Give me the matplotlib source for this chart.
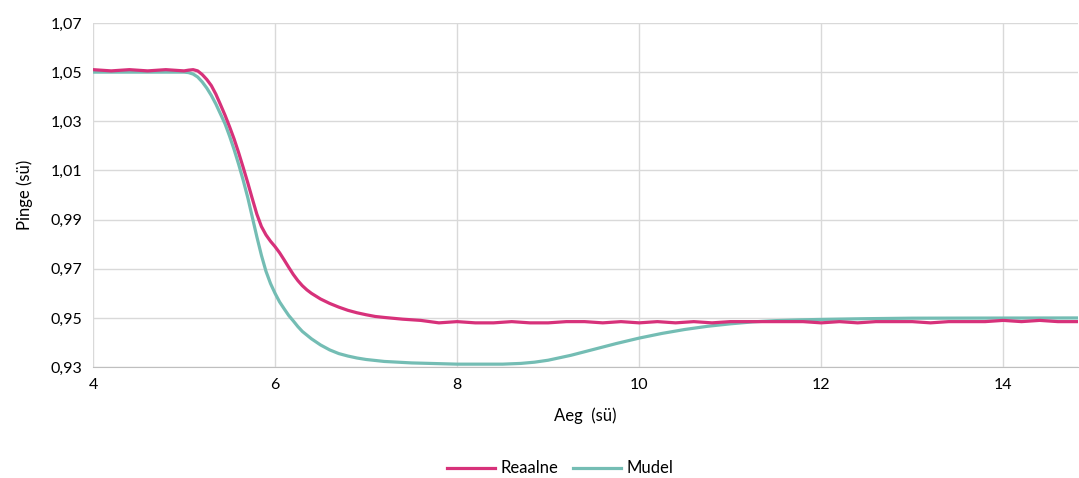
import numpy as np
import matplotlib.pyplot as plt
from matplotlib.ticker import FuncFormatter

plt.rcParams['font.family'] = ['Lato', 'DejaVu Sans']

# andmed (loetud pildilt)
x_real = [4.0, 4.2, 4.4, 4.6, 4.8, 5.0, 5.05, 5.1, 5.15, 5.2, 5.25, 5.3, 5.35, 5.4,
          5.45, 5.5, 5.55, 5.6, 5.65, 5.7, 5.75, 5.8, 5.85, 5.9, 5.95, 6.0, 6.05,
          6.1, 6.15, 6.2, 6.25, 6.3, 6.35, 6.4, 6.5, 6.6, 6.7, 6.8, 6.9, 7.0, 7.1,
          7.2, 7.4, 7.6, 7.8, 8.0, 8.2, 8.4, 8.6, 8.8, 9.0, 9.2, 9.4, 9.6, 9.8,
          10.0, 10.2, 10.4, 10.6, 10.8, 11.0, 11.2, 11.4, 11.6, 11.8, 12.0, 12.2,
          12.4, 12.6, 12.8, 13.0, 13.2, 13.4, 13.6, 13.8, 14.0, 14.2, 14.4, 14.6,
          14.82]
y_real = [1.051, 1.0505, 1.051, 1.0505, 1.051, 1.0505, 1.0508, 1.051, 1.0505, 1.049,
          1.047, 1.0445, 1.041, 1.0368, 1.0325, 1.0278, 1.0228, 1.0172, 1.0112, 1.005,
          0.9985, 0.9922, 0.9872, 0.9838, 0.9812, 0.979, 0.9765, 0.9736, 0.9706, 0.9677,
          0.9652, 0.9631, 0.9614, 0.9600, 0.9577, 0.9559, 0.9544, 0.9531, 0.9521,
          0.9513, 0.9506, 0.9502, 0.9495, 0.949, 0.948, 0.9485, 0.948, 0.948, 0.9485,
          0.948, 0.948, 0.9485, 0.9485, 0.948, 0.9485, 0.948, 0.9485, 0.948, 0.9485,
          0.948, 0.9485, 0.9485, 0.9485, 0.9485, 0.9485, 0.948, 0.9485, 0.948,
          0.9485, 0.9485, 0.9485, 0.948, 0.9485, 0.9485, 0.9485, 0.949, 0.9485,
          0.949, 0.9485, 0.9485]

x_model = [4.0, 5.0, 5.05, 5.1, 5.15, 5.2, 5.25, 5.3, 5.35, 5.4, 5.45, 5.5, 5.55, 5.6,
           5.65, 5.7, 5.75, 5.8, 5.85, 5.9, 5.95, 6.0, 6.05, 6.1, 6.15, 6.2, 6.25,
           6.3, 6.4, 6.5, 6.6, 6.7, 6.8, 6.9, 7.0, 7.2, 7.5, 8.0, 8.5, 8.7, 8.85,
           9.0, 9.25, 9.5, 9.75, 10.0, 10.25, 10.5, 10.75, 11.0, 11.25, 11.5, 11.75,
           12.0, 12.5, 13.0, 14.82]
y_model = [1.050, 1.050, 1.0498, 1.0492, 1.048, 1.046, 1.0435, 1.0405, 1.037, 1.033,
           1.029, 1.024, 1.0185, 1.0125, 1.006, 0.999, 0.991, 0.983, 0.9755, 0.969,
           0.964, 0.960, 0.9565, 0.9537, 0.951, 0.9488, 0.9465, 0.9445, 0.9415, 0.939,
           0.937, 0.9355, 0.9345, 0.9337, 0.9331, 0.9323, 0.9317, 0.9312, 0.9312,
           0.9315, 0.932, 0.9328, 0.9348, 0.9372, 0.9396, 0.9418, 0.9437, 0.9453,
           0.9466, 0.9476, 0.9484, 0.9489, 0.9492, 0.9494, 0.9497, 0.9499, 0.950]

fig = plt.figure(figsize=(10.79, 4.78), dpi=100)
ax = fig.add_axes([0.0862, 0.232, 0.9128, 0.72])

ax.plot(x_real, y_real, color='#D7317A', linewidth=2.3, label='Reaalne', zorder=3,
        solid_joinstyle='round')
ax.plot(x_model, y_model, color='#74BDB4', linewidth=2.3, label='Mudel', zorder=2,
        solid_joinstyle='round')

ax.set_xlim(4, 14.82)
ax.set_ylim(0.93, 1.07)
ax.set_xticks(np.arange(4, 15, 2))
ax.set_yticks(np.arange(0.93, 1.0701, 0.02))
ax.yaxis.set_major_formatter(FuncFormatter(lambda v, p: f'{v:.2f}'.replace('.', ',')))
ax.grid(True, color='#D9D9D9', linewidth=1)
ax.set_axisbelow(True)
for s in ['top', 'right', 'left']:
    ax.spines[s].set_visible(False)
ax.spines['bottom'].set_color('#BFBFBF')
ax.tick_params(length=0, labelsize=11.5, pad=8)

ax.set_xlabel('Aeg  (sü)', fontsize=12, labelpad=11)
ax.set_ylabel('Pinge (sü)', fontsize=12, labelpad=12)

fig.legend(*ax.get_legend_handles_labels(), loc='center', bbox_to_anchor=(0.519, 0.02),
           ncol=2, frameon=False, fontsize=12, handlelength=2.9, columnspacing=0.9,
           handletextpad=0.3)

fig.savefig('out.png', dpi=100)
